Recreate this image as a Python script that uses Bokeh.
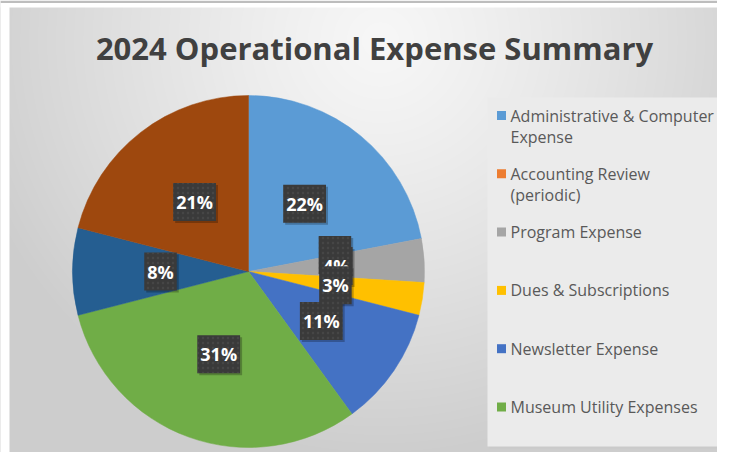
import numpy as np
from bokeh.plotting import figure
from bokeh.models import ColumnDataSource, Range1d
from bokeh.core.properties import value
from bokeh.embed import file_html
from bokeh.resources import INLINE

# ---------------- data ----------------
title_text = "2024 Operational Expense Summary"
legend_labels = [
    "Administrative & Computer\nExpense",
    "Accounting Review\n(periodic)",
    "Program Expense",
    "Dues & Subscriptions",
    "Newsletter Expense",
    "Museum Utility Expenses",
]
# slice shares (percent), clockwise from 12 o'clock
shares = [22, 0, 4, 3, 11, 31, 8, 21]
slice_colors = ["#5B9BD5", "#ED7D31", "#A5A5A5", "#FFC000",
                "#4472C4", "#70AD47", "#255E91", "#9E480E"]

# ---------------- layout (image pixel coords, y flipped) ----------------
W, H = 717, 452
REF_H = 468

def yd(y_img):
    return REF_H - y_img

p = figure(width=W, height=H, x_range=Range1d(0, W), y_range=Range1d(REF_H - H, REF_H),
           x_axis_type=None, y_axis_type=None, output_backend="svg", toolbar_location=None,
           min_border=0, outline_line_color=None,
           background_fill_color="#dedede", border_fill_color="#dedede")
p.grid.visible = False

# background radial gradient
xs = np.arange(W) + 0.5
ys_data = (REF_H - H) + np.arange(H) + 0.5
XX, YY = np.meshgrid(xs, ys_data)
Yimg = REF_H - YY
d = np.sqrt(((XX - 380) / 430.0) ** 2 + ((Yimg - 40) / 420.0) ** 2)
d = np.clip(d, 0, 1)
g = (247 - 42 * d ** 1.2).astype(np.uint8)
rgba = np.zeros((H, W, 4), dtype=np.uint8)
rgba[..., 0] = g
rgba[..., 1] = g
rgba[..., 2] = g
rgba[..., 3] = 255
img = rgba.view(dtype=np.uint32).reshape((H, W))
p.image_rgba(image=[img], x=0, y=REF_H - H, dw=W, dh=H)

# white margin strips and top rule of the original screenshot
p.quad(left=0, right=W, top=yd(0), bottom=yd(7), fill_color="white", line_color=None)
p.quad(left=0, right=9, top=yd(0), bottom=yd(H), fill_color="white", line_color=None)
p.segment(x0=0, y0=yd(1.5), x1=W, y1=yd(1.5), line_color="#bdbdbd", line_width=2)

# title
p.text(x=[374], y=[yd(47)], text=[title_text], text_font=value("Open Sans"),
       text_font_style="bold", text_font_size="31px", text_color="#404040",
       text_align="center", text_baseline="middle")

# pie
cx, cy, R = 248, yd(271), 176
vals = np.array(shares, dtype=float)
total = vals.sum()
cum = np.concatenate([[0.0], np.cumsum(vals)]) / total
start_f, end_f = cum[:-1], cum[1:]
start_ang = np.pi / 2 - 2 * np.pi * end_f
end_ang = np.pi / 2 - 2 * np.pi * start_f
mask = vals > 0
wsrc = ColumnDataSource(dict(
    start=start_ang[mask], end=end_ang[mask],
    color=[c for c, m in zip(slice_colors, mask) if m]))
p.wedge(x=cx, y=cy, radius=R, start_angle="start", end_angle="end", direction="anticlock",
        fill_color="color", line_color="color", line_width=0.5, source=wsrc)

# data labels
mid = (start_f + end_f) / 2
theta = np.pi / 2 - 2 * np.pi * mid
lx = cx + 0.5 * R * np.cos(theta)
ly = cy + 0.5 * R * np.sin(theta)
lbl = [f"{int(round(100 * v / total))}%" for v in vals]
lsrc = ColumnDataSource(dict(x=lx, y=ly, t=lbl))
p.text(x="x", y="y", text="t", source=lsrc, x_offset=2, y_offset=2,
       text_alpha=0, text_font=value("Open Sans"), text_font_style="bold",
       text_font_size="18px", text_align="center", text_baseline="middle",
       background_fill_color="black", background_fill_alpha=0.25, padding=(3, 7))
p.text(x="x", y="y", text="t", source=lsrc, text_color="white",
       text_font=value("Open Sans"), text_font_style="bold", text_font_size="18px",
       text_align="center", text_baseline="middle",
       background_fill_color="#3a3a3a", padding=(3, 7),
       background_hatch_pattern="dot", background_hatch_color="#555555",
       background_hatch_scale=5, background_hatch_alpha=0.45)

# legend box
p.quad(left=489, right=W, top=yd(99), bottom=yd(448), fill_color="#c8c8c8", line_color=None, fill_alpha=0.6)
p.quad(left=487, right=W, top=yd(97), bottom=yd(446), fill_color="#ebebeb", line_color=None)

n = len(legend_labels)
ly_img = 115 + 58.3 * np.arange(n)
legsrc = ColumnDataSource(dict(
    x=[501] * n, y=[yd(v) for v in ly_img], ty=[yd(v) + 11 for v in ly_img],
    color=slice_colors[:n], label=legend_labels))
p.rect(x="x", y="y", width=9, height=9, fill_color="color", line_color=None, source=legsrc)
p.text(x=510, y="ty", text="label", source=legsrc, text_font=value("Open Sans"),
       text_font_size="16px", text_color="#595959", text_align="left",
       text_baseline="top", text_line_height=0.98)

open("out.html", "w").write(file_html(p, INLINE))
